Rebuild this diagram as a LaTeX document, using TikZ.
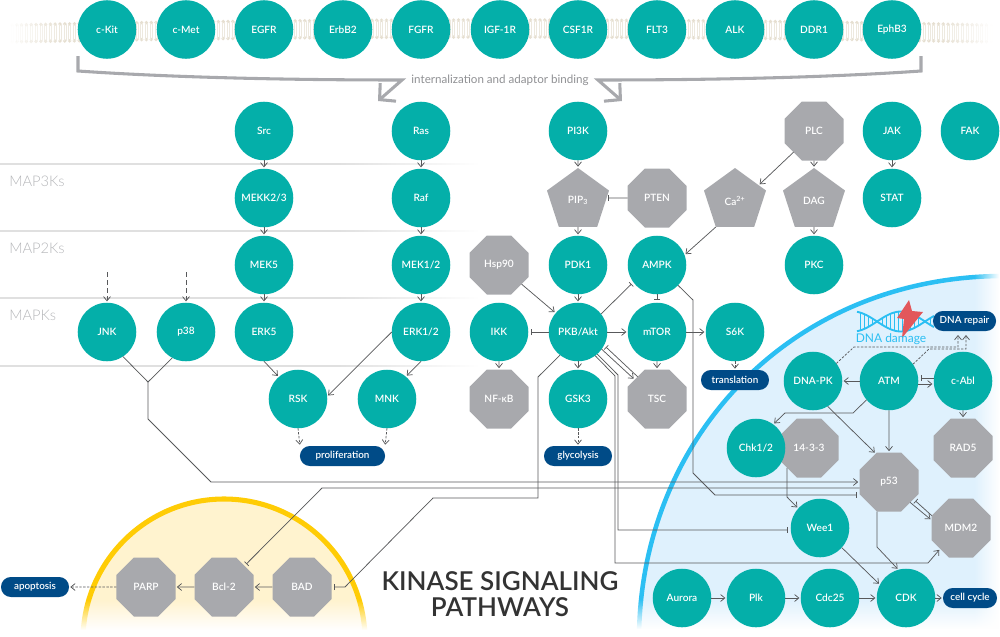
\documentclass[tikz,border=0pt]{standalone}
\usepackage{fontspec}
\setmainfont{Lato}
\newfontfamily\latosemi{Lato Semibold}
\newfontfamily\latolight{Lato Light}
\usetikzlibrary{arrows.meta,shapes.geometric}
\definecolor{tealc}{HTML}{04AFA9}
\definecolor{greyc}{HTML}{A8A9AD}
\definecolor{pillc}{HTML}{004B87}
\definecolor{linec}{HTML}{58595B}
\definecolor{skyc}{HTML}{2BBFF3}
\definecolor{skyf}{HTML}{DFF1FD}
\definecolor{sunc}{HTML}{FFCC05}
\definecolor{sunf}{HTML}{FFF3CF}
\definecolor{lipid}{HTML}{E6DFD1}
\definecolor{boltc}{HTML}{E2575B}
\tikzset{
  lbl/.style={text=white,font=\fontsize{7.6}{9}\latosemi,inner sep=0pt,outer sep=0pt,align=center},
  circ/.style={lbl,circle,fill=tealc,minimum size=43.9pt},
  octa/.style={lbl,regular polygon,regular polygon sides=8,fill=greyc,minimum size=47.9pt},
  penta/.style={lbl,regular polygon,regular polygon sides=5,fill=greyc,minimum size=48.9pt},
  pill/.style={lbl,font=\fontsize{7.4}{9}\latosemi,rounded corners=7.4pt,fill=pillc,minimum height=15pt},
  lnk/.style={draw=linec,line width=0.55pt,shorten >=1pt,-{Straight Barb[length=3.2pt,width=5.2pt,line width=0.55pt]}},
  tee/.style={draw=linec,line width=0.55pt,shorten >=2pt,-{Bar[width=4.5pt,line width=0.5pt]}},
  dsh/.style={lnk,dash pattern=on 1.8pt off 1.1pt},
  plain/.style={draw=linec,line width=0.55pt},
  rowlab/.style={text=greyc!85,font=\fontsize{11}{13}\latolight,inner sep=0pt,anchor=west},
  gbar/.style={draw=greyc,line width=2.3pt,-{Straight Barb[length=8.5pt,width=18pt,line width=2.3pt]}}
}
\begin{document}
\begin{tikzpicture}[x=0.75pt,y=0.75pt,yscale=-1,xscale=1]
\useasboundingbox (0,0) rectangle (1000,636);

%Lipid bilayer
\foreach \k in {0,...,204}{
  \pgfmathsetmacro{\xx}{12+4.8*\k}
  \pgfmathsetmacro{\yy}{20+5*((\xx-500)/490)^2}
  \pgfmathsetmacro{\oo}{min(1,min((\xx-10)/50,(992-\xx)/50))}
  \fill[lipid,opacity=\oo] (\xx,\yy) circle (1.9);
  \fill[lipid,opacity=\oo] (\xx,\yy+17) circle (1.9);
  \draw[lipid!70,opacity=\oo,line width=0.25pt] (\xx-1,\yy) -- (\xx-1,\yy+17) (\xx+1,\yy) -- (\xx+1,\yy+17);
}

%Row rules
\foreach \yr in {164,231,298,366}{
  \draw[black!12,line width=0.8pt] (0,\yr) -- (370,\yr);
  \shade[left color=black!12,right color=white] (340,\yr-0.55) rectangle (480,\yr+0.55);
}
\node[rowlab] (maptri) at (9,181) {MAP3Ks};
\node[rowlab] (mapbi) at (9,248) {MAP2Ks};
\node[rowlab] (mapone) at (9,315) {MAPKs};

%Nucleus region
\fill[skyf] (639,640) .. controls (639,440) and (790,276) .. (1004,276) -- (1004,640) -- cycle;
\draw[skyc,line width=3.4pt] (639,640) .. controls (639,440) and (790,276) .. (1004,276);
\foreach \s in {1,...,25}{
  \fill[white,opacity=\s/25] (974+\s,262) rectangle (975+\s,640);
}
\fill[white] (1000,262) rectangle (1004,640);
\foreach \s in {1,...,30}{
  \fill[white,opacity=\s/30] (625,599+\s) rectangle (1000,600+\s);
}
\fill[white] (625,630) rectangle (1000,640);

%Apoptosis region
\fill[sunf] (83,640) arc (180:360:141);
\draw[sunc,line width=3.8pt] (83,640) arc (180:360:141);
\foreach \s in {1,...,30}{
  \fill[white,opacity=\s/30] (75,600+\s) rectangle (375,601+\s);
}
\fill[white] (75,631) rectangle (375,640);

%Receptors
\foreach \nm/\xp/\tx in {ckit/107/c-Kit,cmet/186/c-Met,egfr/264/EGFR,erbb/343/ErbB2,fgfr/421/FGFR,igf/500/IGF-1R,csf/578/CSF1R,flt/657/FLT3,alk/735/ALK,ddr/814/DDR1,eph/892/EphB3}
  \node[circ] (\nm) at (\xp,29.5) {\tx};

%Adaptor bracket
\coordinate (brl) at (78,56);
\coordinate (brr) at (921,56);
\draw[gbar] (brl) -- (78,71) .. controls (180,78) and (300,80) .. (402,80) -- (378,101);
\draw[gbar] (brr) -- (921,71) .. controls (820,78) and (700,80) .. (598,80) -- (622,101);
\node[inner sep=0pt,text=greyc!85!black,font=\fontsize{8.7}{10}\selectfont] (intern) at (500,80) {internalization and adaptor binding};

%Teal kinases
\node[circ] (src) at (264,131) {Src};
\node[circ] (ras) at (421,131) {Ras};
\node[circ] (pik) at (578,131) {PI3K};
\node[circ] (jak) at (892,131) {JAK};
\node[circ] (fak) at (970,131) {FAK};
\node[circ] (mekk) at (264,198) {MEKK2/3};
\node[circ] (raf) at (421,198) {Raf};
\node[circ] (stat) at (892,198) {STAT};
\node[circ] (mekf) at (264,265) {MEK5};
\node[circ] (meko) at (421,265) {MEK1/2};
\node[circ] (pdk) at (578,265) {PDK1};
\node[circ] (ampk) at (657,265) {AMPK};
\node[circ] (pkc) at (814,265) {PKC};
\node[circ] (jnk) at (107,332) {JNK};
\node[circ] (pte) at (186,332) {p38};
\node[circ] (erkf) at (264,332) {ERK5};
\node[circ] (erko) at (421,332) {ERK1/2};
\node[circ] (ikk) at (499,332) {IKK};
\node[circ] (pkb) at (578,332) {PKB/Akt};
\node[circ] (mtor) at (657,332) {mTOR};
\node[circ] (sk) at (735,332) {S6K};
\node[circ] (rsk) at (298,399) {RSK};
\node[circ] (mnk) at (387,399) {MNK};
\node[circ] (gsk) at (578,399) {GSK3};
\node[circ] (dnapk) at (813,381) {DNA-PK};
\node[circ] (atm) at (889,381) {ATM};
\node[circ] (cabl) at (963,381) {c-Abl};
\node[octa] (ftt) at (809,448) {14-3-3};
\node[circ] (chk) at (756,448) {Chk1/2};
\node[circ] (wee) at (820,528) {Wee1};
\node[circ] (aur) at (682,598) {Aurora};
\node[circ] (plk) at (756,598) {Plk};
\node[circ] (cdc) at (830,598) {Cdc25};
\node[circ] (cdk) at (906,598) {CDK};

%Grey proteins
\node[octa] (plc) at (814,131) {PLC};
\node[penta] (pip) at (578,200.6) {PIP\textsubscript{3}};
\node[octa] (pten) at (657,198) {PTEN};
\node[penta] (ca) at (735,200.6) {Ca\textsuperscript{2+}};
\node[penta] (dag) at (814,200.6) {DAG};
\node[octa] (hsp) at (499,265) {Hsp90};
\node[octa] (nfk) at (499,399) {NF-κB};
\node[octa] (tsc) at (657,399) {TSC};
\node[octa] (rad) at (963,448) {RAD5};
\node[octa] (pft) at (889,482) {p53};
\node[octa] (mdm) at (961,528) {MDM2};
\node[octa] (parp) at (146,587) {PARP};
\node[octa] (bcl) at (224,587) {Bcl-2};
\node[octa] (bad) at (302,587) {BAD};

%DNA icon
\draw[skyc,line width=1.4pt,domain=857:934,samples=60,smooth] plot (\x,{321.5+10*sin(3.75*(\x-877))});
\draw[skyc,line width=1.4pt,domain=857:934,samples=60,smooth] plot (\x,{321.5-10*sin(3.75*(\x-877))});
\foreach \xd in {860,864,868,872,882,886,890,894,898,902,906,910,914,918,930}
  \draw[skyc,line width=0.7pt] (\xd,{321.5-9.5*abs(sin(3.75*(\xd-877)))}) -- (\xd,{321.5+9.5*abs(sin(3.75*(\xd-877)))});
\fill[boltc] (909,300) -- (897,318) -- (904,319) -- (902,338) -- (923,312) -- (912,311) -- cycle;
\node[inner sep=0pt,text=skyc,font=\fontsize{9}{11}\selectfont] (dmg) at (891,339) {DNA damage};

%Outcome pills
\node[pill,minimum width=63.8pt] (prolif) at (342.5,456) {proliferation};
\node[pill,minimum width=51pt] (glyc) at (578,456) {glycolysis};
\node[pill,minimum width=51pt] (transl) at (735,380) {translation};
\node[pill,minimum width=47.3pt] (repair) at (964.5,321) {DNA repair};
\node[pill,minimum width=40.5pt] (cycle) at (970,598) {cell cycle};
\node[pill,minimum width=51pt] (apop) at (35,587) {apoptosis};

%Title
\node[inner sep=0pt,align=center,text=black!80,font=\fontsize{19.5}{20}\latosemi] (title) at (500,594) {KINASE\hspace{0.25em}SIGNALING\\PATHWAYS};

%Vertical cascades
\foreach \aa/\bb in {src/mekk,ras/raf,mekk/mekf,raf/meko,mekf/erkf,meko/erko,pik/pip,pip/pdk,pdk/pkb,pkb/gsk,mtor/tsc,plc/dag,dag/pkc,jak/stat,cabl/rad,ikk/nfk,
  pkb/mtor,mtor/sk,atm/dnapk,aur/plk,plk/cdc,cdc/cdk,cdk/cycle,bcl/parp,bad/bcl}
  \draw[lnk] (\aa) -- (\bb);
\draw[tee] (pkb) -- (ikk);
\draw[tee] (pten) -- (pip.east |- pten);
\draw[tee] (ampk) -- (mtor);
\draw[dsh] (sk) -- (transl);
\draw[dsh] (gsk) -- (glyc);
\draw[dsh] (rsk.-90) -- (prolif.north west);
\draw[dsh] (mnk.-90) -- (prolif.north east);
\draw[dsh] (parp) -- (apop);

%Incoming to JNK and p38
\coordinate (jnkin) at (107,272);
\coordinate (ptein) at (186,272);
\coordinate (jct) at (148,382);
\draw[lnk,dash pattern=on 4pt off 2pt] (jnkin) -- (jnk);
\draw[lnk,dash pattern=on 4pt off 2pt] (ptein) -- (pte);
\draw[plain] (jnk.-57) -- (jct);
\draw[plain] (pte.-118) -- (jct);
\draw[lnk] (jct) -- (148,419) -- (211,482) -- (pft.west |- 0,482);

%MAPK targets
\draw[lnk] (erkf.-90) -- (rsk.131);
\draw[lnk] (erko.180) -- (rsk.5);
\draw[lnk] (erko.-90) -- (mnk.50);

%Around PKB
\draw[lnk] (hsp) -- (pkb);
\draw[tee] (pkb.38) -- (ampk.-144);
\draw[lnk] (ca.-126) -- (ampk.20);
\draw[lnk] (plc.-134) -- (ca.33);
\draw[tee] (ampk.-44) -- (693,300) -- (693,473) -- (715,495) -- (pft.west |- 0,495);
\draw[tee] (pkb.-128) -- (538,377) -- (538,498) -- (433,498) -- (345,587) -- (bad.east);
\draw[lnk] (pkb.-54) -- (615,376) -- (615,563) -- (928,563) -- (mdm.-135);
\draw[tee] (pkb.-49) -- (618,375) -- (618,530) -- (wee.west |- 0,530);
\draw[lnk] (pkb.-36) -- (tsc.139);
\draw[tee] (tsc.131) -- (pkb.-27);

%Nucleus links
\draw[tee] (pft.west |- 0,488) -- (322,488) -- (bcl.46);
\draw[lnk] (pft.-44) -- (mdm.165);
\draw[tee] (mdm.157) -- (pft.-35);
\draw[lnk] (pft.-112) -- (877,547) -- (cdk.105);
\draw[lnk] (wee.-42) -- (cdk.153);
\draw[lnk] (ftt.-138) -- (787,497) -- (wee.138);
\draw[lnk] (atm.east |- 0,384) -- (cabl.west |- 0,384);
\draw[tee] (cabl.west |- 0,378) -- (atm.east |- 0,378);
\draw[lnk] (atm.-140) -- (853,413) -- (785,413) -- (chk.54);
\draw[lnk] (dnapk.-60) -- (pft.115);
\draw[lnk] (atm) -- (pft);
\draw[dsh,shorten >=3pt] (dnapk.37) -- (854,347) -- (958,347) -- (repair.south -| 958,0);
\draw[dsh,shorten >=3pt] (atm.35) -- (929,349) -- (966,349) -- (repair.south -| 966,0);
\end{tikzpicture}
\end{document}
